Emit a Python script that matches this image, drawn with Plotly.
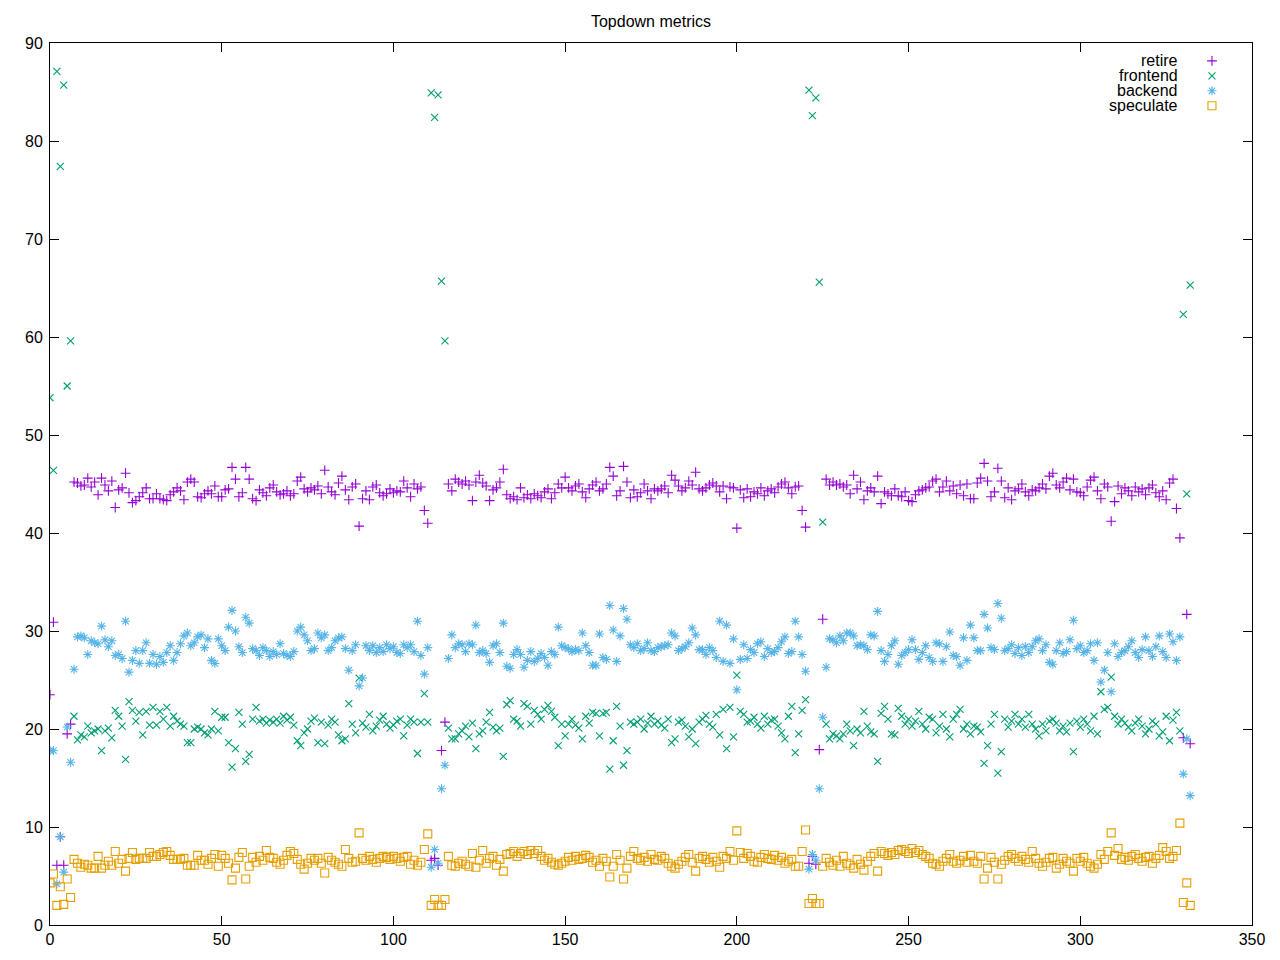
import plotly.graph_objects as go

# ---------------- data ----------------
retire = [
    23.5, 30.9, 6.1, 9.0, 6.1, 19.5, 20.5, 45.2, 45.1, 44.8,
    44.9, 45.6, 44.7, 45.2, 43.9, 45.6, 44.9, 44.3, 45.3, 42.6,
    44.4, 44.6, 46.1, 44.1, 43.1, 43.3, 43.7, 44.1, 44.6, 43.5,
    43.5, 44.0, 43.5, 43.4, 43.3, 43.9, 44.2, 44.6, 44.3, 43.4,
    45.2, 45.5, 45.2, 43.7, 43.6, 44.0, 44.3, 44.0, 44.8, 43.7,
    43.7, 44.4, 44.5, 46.7, 45.5, 43.7, 44.1, 46.7, 45.5, 43.5,
    43.3, 44.4, 44.1, 43.8, 44.6, 44.9, 44.2, 43.9, 44.0, 44.3,
    43.8, 44.0, 45.3, 45.7, 44.5, 44.2, 44.6, 44.4, 44.8, 44.0,
    46.4, 44.7, 44.2, 43.9, 45.1, 45.8, 44.4, 43.4, 44.7, 45.0,
    40.7, 43.5, 44.3, 43.4, 44.7, 44.9, 44.1, 43.8, 44.0, 44.5,
    44.1, 44.3, 44.2, 45.3, 44.6, 43.7, 45.0, 44.5, 44.7, 42.3,
    41.0, 6.6, 6.8, 6.1, 17.8, 20.7, 45.0, 44.3, 45.5, 45.2,
    45.0, 45.3, 44.9, 43.3, 45.2, 45.9, 45.1, 44.8, 43.3, 44.4,
    44.6, 45.2, 46.5, 43.9, 43.5, 43.7, 43.4, 44.6, 43.6, 43.9,
    43.5, 44.0, 43.8, 43.6, 44.2, 44.5, 43.5, 44.1, 45.0, 44.6,
    45.7, 44.6, 44.3, 44.8, 45.0, 44.2, 43.6, 44.5, 44.9, 45.2,
    44.3, 44.5, 45.0, 46.7, 45.8, 43.8, 44.3, 46.8, 45.2, 43.6,
    44.4, 43.7, 44.1, 45.0, 44.3, 43.5, 44.5, 44.3, 44.5, 44.8,
    44.1, 45.9, 45.4, 44.8, 44.3, 44.6, 45.3, 44.9, 46.2, 44.5,
    44.3, 44.6, 44.9, 45.1, 44.8, 44.2, 44.8, 43.5, 44.7, 44.6,
    40.5, 44.4, 43.6, 44.5, 43.7, 44.2, 44.0, 44.6, 43.8, 44.3,
    44.5, 44.1, 44.7, 45.0, 45.2, 44.6, 44.0, 44.7, 44.8, 42.3,
    40.6, 6.3, 7.0, 6.2, 17.9, 31.2, 45.5, 44.9, 45.2, 44.9,
    45.0, 44.7, 44.9, 44.0, 45.9, 44.5, 45.2, 43.4, 44.3, 44.6,
    44.2, 45.8, 43.0, 44.2, 44.0, 43.8, 44.5, 43.8, 43.7, 44.2,
    43.3, 43.2, 43.9, 44.3, 44.4, 44.6, 44.7, 45.3, 45.5, 44.2,
    44.7, 45.3, 44.3, 44.8, 44.0, 44.9, 43.8, 45.0, 43.5, 43.5,
    45.1, 45.6, 47.1, 45.3, 43.7, 44.2, 46.6, 45.3, 43.6, 44.6,
    43.4, 44.3, 44.5, 45.0, 44.2, 43.8, 44.4, 44.3, 44.6, 45.0,
    44.5, 45.8, 46.1, 44.9, 44.6, 45.2, 45.6, 44.4, 45.5, 44.2,
    44.1, 43.8, 44.7, 45.4, 45.7, 44.3, 43.5, 45.0, 44.7, 41.2,
    43.2, 44.8, 44.0, 44.6, 44.3, 43.8, 44.7, 44.2, 44.5, 43.9,
    44.6, 44.9, 44.1, 43.7, 44.3, 43.4, 45.1, 45.5, 42.5, 39.5,
    19.1, 31.7, 18.5,
]

frontend = [
    53.8, 46.4, 87.1, 77.4, 85.7, 55.0, 59.6, 21.3, 18.9, 19.4,
    19.2, 20.3, 19.6, 19.8, 20.0, 17.8, 19.8, 20.1, 19.1, 21.9,
    21.3, 20.3, 16.9, 22.8, 21.9, 20.8, 21.7, 19.4, 21.8, 20.4,
    22.2, 20.4, 21.8, 21.0, 22.2, 20.3, 21.3, 20.8, 20.5, 20.3,
    18.6, 18.6, 20.0, 20.2, 20.0, 19.6, 19.4, 20.0, 21.8, 19.8,
    21.2, 21.2, 18.6, 16.1, 18.0, 21.7, 20.5, 16.7, 17.4, 21.0,
    22.2, 20.8, 21.0, 20.6, 20.9, 20.7, 21.0, 20.6, 21.3, 20.9,
    21.2, 20.4, 18.8, 18.3, 19.6, 20.0, 20.8, 21.1, 18.6, 20.7,
    18.5, 20.4, 21.0, 20.7, 19.4, 18.8, 19.0, 22.6, 20.5, 19.6,
    25.2, 20.6, 20.2, 21.5, 19.8, 20.3, 20.9, 21.3, 20.5, 20.1,
    20.4, 20.8, 21.0, 19.3, 20.4, 21.0, 20.7, 17.5, 20.7, 23.6,
    20.7, 84.9, 82.4, 84.7, 65.7, 59.6, 20.1, 19.0, 19.0, 19.5,
    19.8, 20.3, 19.2, 20.6, 18.0, 19.5, 19.8, 20.7, 21.7, 20.2,
    19.8, 20.1, 17.2, 22.5, 22.9, 21.0, 20.8, 20.3, 22.6, 22.3,
    20.5, 21.9, 21.5, 21.0, 22.0, 22.4, 21.8, 21.2, 18.3, 20.5,
    19.3, 20.5, 21.0, 20.4, 20.1, 19.0, 21.3, 20.6, 21.7, 21.6,
    19.3, 21.6, 21.7, 15.9, 18.8, 22.3, 20.3, 16.3, 17.8, 20.7,
    20.5, 20.7, 21.0, 20.0, 20.6, 21.3, 20.5, 20.8, 20.4, 20.1,
    21.0, 18.6, 19.0, 20.7, 20.9, 20.3, 19.2, 20.0, 18.5, 20.7,
    21.0, 21.4, 20.5, 20.2, 21.5, 19.4, 22.0, 18.0, 22.2, 19.2,
    25.5, 21.8, 21.5, 20.7, 20.8, 21.2, 20.5, 20.1, 21.3, 20.5,
    20.9, 21.0, 20.3, 19.6, 19.0, 21.3, 22.3, 17.6, 19.5, 21.9,
    23.0, 85.2, 82.6, 84.4, 65.6, 41.1, 20.5, 19.0, 19.5, 19.3,
    19.0, 19.5, 20.5, 19.8, 18.3, 20.0, 19.6, 21.8, 20.3, 19.7,
    19.5, 16.7, 21.6, 22.3, 21.0, 19.5, 19.4, 22.1, 21.3, 20.5,
    21.0, 20.3, 20.8, 21.8, 20.5, 20.0, 21.2, 21.0, 19.6, 20.3,
    21.5, 20.0, 19.2, 21.0, 21.5, 22.0, 20.0, 20.5, 19.5, 20.3,
    20.2, 19.7, 16.5, 18.3, 20.5, 21.5, 15.5, 17.7, 21.0, 20.2,
    20.8, 21.5, 20.5, 21.0, 20.2, 21.5, 20.5, 20.0, 19.3, 20.5,
    19.8, 20.8, 21.0, 20.6, 19.8, 20.3, 19.7, 20.6, 17.7, 20.8,
    20.2, 21.0, 20.5, 19.8, 21.3, 19.5, 23.8, 22.0, 22.2, 25.3,
    21.3, 20.5, 21.0, 20.6, 20.2, 19.8, 20.6, 21.0, 20.3, 19.5,
    20.0, 20.8, 20.5, 19.3, 19.7, 21.3, 18.8, 20.9, 21.7, 19.8,
    62.3, 44.0, 65.3,
]

backend = [
    17.8, 17.8, 4.2, 9.0, 5.4, 20.2, 16.6, 26.1, 29.4, 29.5,
    29.3, 27.6, 29.0, 28.8, 28.7, 30.5, 29.1, 28.4, 29.0, 27.5,
    27.6, 27.2, 31.0, 25.8, 27.0, 28.0, 26.7, 28.0, 28.8, 26.7,
    27.6, 26.6, 27.4, 26.8, 27.8, 28.5, 27.0, 27.8, 28.7, 29.5,
    29.8, 28.5, 28.8, 29.4, 29.6, 28.3, 29.2, 27.0, 26.7, 29.2,
    28.5, 28.0, 30.4, 32.1, 30.0, 28.4, 27.8, 31.4, 30.8, 28.2,
    28.0, 27.5, 28.3, 28.0, 27.4, 27.9, 27.6, 28.7, 27.7, 27.5,
    27.4, 27.9, 30.0, 30.4, 29.6, 29.0, 28.0, 28.2, 29.8, 29.3,
    29.6, 28.0, 28.3, 29.0, 29.3, 29.4, 28.2, 26.0, 28.0, 28.6,
    24.4, 25.2, 28.5, 28.0, 28.5, 27.8, 28.3, 27.9, 28.6, 28.2,
    28.4, 27.8, 27.7, 28.6, 28.3, 28.6, 27.9, 31.0, 27.5, 25.6,
    28.3, 5.9, 7.7, 6.3, 13.9, 16.3, 27.2, 29.6, 28.3, 28.7,
    28.6, 27.9, 28.7, 28.6, 30.6, 27.8, 28.0, 27.7, 26.8, 28.5,
    28.7, 27.8, 30.8, 26.4, 26.2, 27.6, 28.1, 27.6, 26.3, 27.0,
    27.9, 26.9, 27.2, 27.7, 27.3, 26.5, 27.9, 27.6, 30.4, 28.5,
    28.3, 28.2, 27.9, 28.1, 28.0, 29.8, 28.5, 27.8, 26.5, 26.5,
    29.7, 27.3, 27.1, 32.6, 30.1, 26.9, 29.5, 32.3, 31.2, 28.6,
    28.3, 28.7, 28.0, 28.2, 28.8, 28.0, 27.9, 28.3, 28.4, 28.5,
    28.6, 29.8, 29.5, 28.0, 28.2, 28.4, 28.8, 30.3, 29.6, 28.1,
    28.1, 27.6, 28.3, 28.0, 27.3, 31.0, 26.9, 30.6, 26.7, 29.2,
    24.0, 27.1, 28.6, 27.2, 28.1, 27.8, 28.7, 28.9, 27.4, 28.2,
    27.8, 27.9, 28.3, 28.9, 29.4, 27.7, 27.9, 31.0, 29.4, 27.6,
    25.9, 5.7, 7.2, 6.6, 13.9, 21.2, 26.3, 29.2, 29.1, 28.8,
    29.5, 29.0, 29.8, 29.8, 29.5, 28.5, 28.6, 28.5, 28.1, 29.6,
    29.5, 32.0, 28.0, 26.9, 27.6, 28.5, 29.0, 26.6, 27.5, 27.8,
    28.1, 29.1, 28.1, 27.1, 27.8, 28.5, 27.3, 26.9, 28.8, 28.7,
    26.9, 28.4, 29.9, 27.5, 27.4, 26.5, 29.3, 27.0, 30.6, 29.3,
    28.0, 28.0, 31.7, 30.3, 28.3, 28.1, 32.8, 31.3, 28.0, 28.2,
    28.6, 27.7, 28.3, 27.5, 28.4, 27.8, 28.4, 29.0, 29.2, 28.0,
    28.6, 26.8, 26.6, 28.0, 28.8, 27.7, 27.9, 29.1, 31.1, 28.2,
    28.5, 27.8, 28.0, 28.7, 27.0, 28.8, 24.8, 26.0, 27.8, 23.8,
    28.7, 27.4, 27.8, 28.0, 28.4, 29.0, 27.8, 27.3, 28.1, 29.4,
    28.0, 27.4, 28.4, 29.5, 27.9, 27.3, 29.7, 28.9, 27.0, 29.4,
    15.4, 19.0, 13.2,
]

speculate = [
    4.3, 5.2, 2.0, 3.9, 2.1, 4.7, 2.8, 6.7, 6.3, 5.9,
    6.2, 6.1, 5.8, 5.8, 7.0, 5.8, 6.1, 6.5, 6.1, 7.5,
    6.3, 6.7, 5.5, 6.8, 7.4, 6.7, 6.8, 6.8, 6.8, 7.4,
    7.0, 7.0, 7.2, 7.4, 7.5, 7.1, 6.7, 6.7, 6.7, 6.8,
    6.1, 6.1, 6.1, 7.1, 6.6, 6.6, 6.2, 6.8, 7.2, 6.0,
    7.1, 6.8, 6.3, 4.6, 5.8, 6.9, 7.4, 4.7, 6.0, 6.9,
    6.4, 7.0, 6.6, 7.6, 6.9, 6.8, 6.4, 6.2, 6.6, 7.1,
    7.5, 7.3, 6.7, 6.2, 5.7, 6.3, 6.8, 6.6, 6.8, 6.3,
    5.3, 6.9, 6.6, 6.4, 6.2, 6.0, 7.7, 6.8, 6.4, 6.5,
    9.4, 6.8, 6.6, 7.0, 6.7, 6.4, 6.8, 7.0, 6.9, 6.7,
    7.0, 6.8, 6.5, 6.9, 7.0, 6.2, 6.6, 6.1, 6.4, 7.7,
    9.3, 2.0, 2.6, 2.0, 2.0, 2.6, 7.0, 6.1, 6.0, 6.3,
    6.5, 6.2, 6.0, 7.3, 5.9, 6.6, 7.6, 6.3, 6.8, 7.0,
    6.1, 6.7, 5.5, 7.2, 7.3, 7.5, 7.0, 7.3, 7.5, 7.2,
    7.6, 7.3, 7.6, 7.0, 6.6, 6.8, 6.4, 6.2, 6.1, 6.3,
    6.5, 6.9, 6.6, 7.0, 6.7, 6.8, 7.1, 6.9, 6.4, 6.6,
    6.0, 6.8, 6.5, 4.9, 6.0, 7.2, 6.6, 4.7, 5.8, 7.0,
    7.5, 6.8, 6.6, 6.9, 6.5, 7.2, 6.7, 6.6, 7.0, 6.8,
    6.3, 6.0, 5.8, 6.2, 6.5, 6.9, 7.2, 6.4, 5.5, 6.8,
    7.0, 6.7, 6.4, 6.9, 6.5, 5.9, 7.0, 6.8, 7.5, 6.6,
    9.6, 7.4, 6.8, 7.3, 7.0, 6.5, 6.4, 6.9, 7.2, 6.8,
    6.7, 7.1, 6.6, 6.9, 6.3, 6.5, 6.7, 6.0, 6.0, 7.5,
    9.7, 2.2, 2.7, 2.2, 2.2, 6.0, 6.8, 6.4, 6.1, 6.6,
    6.0, 7.0, 6.3, 6.1, 5.8, 6.7, 6.2, 5.6, 6.5, 7.0,
    7.3, 5.5, 7.5, 7.3, 7.1, 7.4, 7.2, 7.6, 7.7, 7.5,
    7.3, 7.8, 7.4, 7.6, 7.2, 7.0, 6.8, 6.3, 6.2, 6.0,
    6.5, 6.8, 7.2, 6.5, 6.3, 6.6, 7.0, 6.4, 7.1, 6.5,
    6.3, 7.0, 4.7, 5.8, 6.9, 6.4, 4.7, 6.2, 6.6, 7.0,
    7.2, 6.8, 6.5, 7.0, 6.7, 6.4, 7.5, 6.8, 6.3, 6.0,
    6.4, 6.8, 6.9, 5.8, 6.2, 6.8, 6.5, 6.3, 5.5, 6.8,
    6.5, 6.9, 6.3, 6.0, 5.8, 6.2, 7.2, 6.7, 7.5, 9.4,
    7.1, 7.8, 6.7, 6.9, 6.6, 7.0, 7.2, 6.8, 6.5, 6.9,
    7.0, 6.3, 6.8, 7.1, 7.9, 7.5, 6.8, 7.0, 7.6, 10.4,
    2.3, 4.3, 2.0,
]

series_names = ["retire", "frontend", "backend", "speculate"]
x_ticks = [0, 50, 100, 150, 200, 250, 300, 350]
y_ticks = [0, 10, 20, 30, 40, 50, 60, 70, 80, 90]

# ---------------- styling ----------------
colors = ["#9400d3", "#009e73", "#56b4e9", "#e69f00"]
symbols = ["cross-thin-open", "x-thin-open", "asterisk-open", "square-open"]
sizes = [7, 7, 7.5, 8]
FONT = "Liberation Sans, Arial, sans-serif"
FS = 16
LW = 1.1

series_values = [retire, frontend, backend, speculate]
x = list(range(len(retire)))

fig = go.Figure()
for name, vals, col, sym, sz in zip(series_names, series_values, colors, symbols, sizes):
    fig.add_trace(go.Scatter(
        x=x, y=vals, mode="markers", name=name, showlegend=False,
        marker=dict(symbol=sym, size=sz, color=col, line=dict(width=LW, color=col)),
    ))

# gnuplot-style key: right-aligned text, sample to the right (overlay axes 0..1)
key_sample_x = 0.9667
key_text_x = 0.9401
key_rows = [0.9797, 0.9628, 0.9458, 0.9289]
for name, col, sym, sz, ky in zip(series_names, colors, symbols, sizes, key_rows):
    fig.add_trace(go.Scatter(
        x=[key_sample_x], y=[ky], xaxis="x2", yaxis="y2", mode="markers",
        showlegend=False, hoverinfo="skip",
        marker=dict(symbol=sym, size=sz, color=col, line=dict(width=LW, color=col)),
    ))
    fig.add_annotation(x=key_text_x, y=ky, xref="paper", yref="paper", text=name,
                       showarrow=False, xanchor="right", yanchor="middle",
                       font=dict(family=FONT, size=FS, color="black"))

axis_common = dict(showgrid=False, zeroline=False, showline=True, mirror="ticks",
                   linecolor="black", linewidth=1, ticks="inside", ticklen=9,
                   tickcolor="black", tickwidth=1,
                   tickfont=dict(family=FONT, size=FS, color="black"))

# the page body has an 8px margin; figure sized so it fills the 1280x960 window
W, H = 1272, 952
fig.update_layout(
    width=W, height=H,
    margin=dict(l=42, r=28, t=35, b=31),
    paper_bgcolor="white", plot_bgcolor="white",
    font=dict(family=FONT, size=FS, color="black"),
    title=dict(text="Topdown metrics", x=0.5, xref="paper", xanchor="center",
               y=1 - 13 / H, yref="container", yanchor="middle",
               font=dict(family=FONT, size=FS, color="black")),
    xaxis=dict(range=[0, 350], tickvals=x_ticks, **axis_common),
    yaxis=dict(range=[0, 90], tickvals=y_ticks, ticklabelstandoff=3, **axis_common),
    xaxis2=dict(range=[0, 1], overlaying="x", anchor="y2", visible=False, fixedrange=True),
    yaxis2=dict(range=[0, 1], overlaying="y", anchor="x2", visible=False, fixedrange=True),
    showlegend=False,
)

fig.write_html("out.html")
